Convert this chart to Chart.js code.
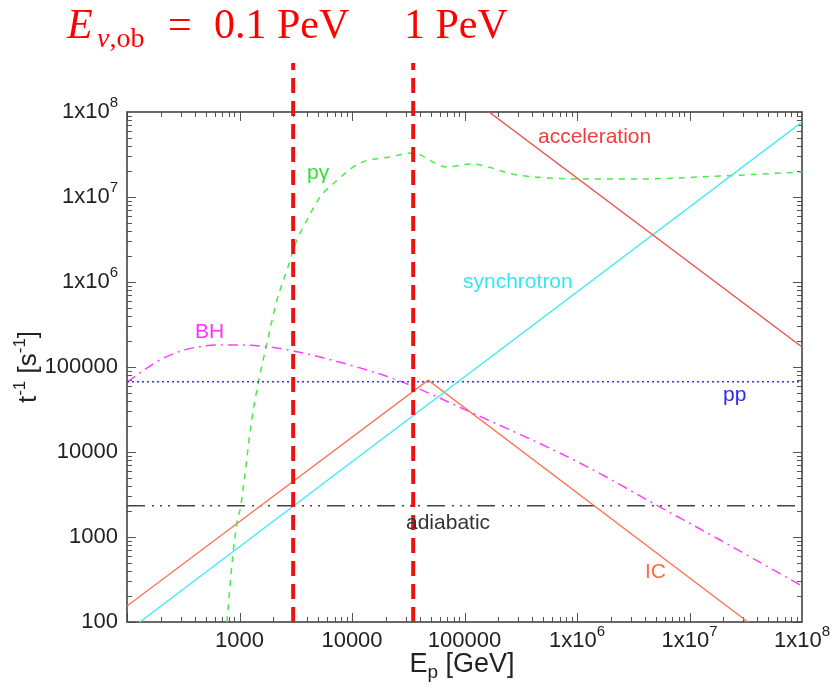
<!DOCTYPE html>
<html>
<head>
<meta charset="utf-8">
<script src="https://cdn.jsdelivr.net/npm/chart.js@4.4.0/dist/chart.umd.min.js"></script>
<style>
  html, body { margin: 0; padding: 0; background: #fff; }
  canvas { display: block; }
</style>
</head>
<body>
<canvas id="rates" width="837" height="688"></canvas>
<script>
// axis ticks ('^' marks the exponent)
const xTickVals = [1e3, 1e4, 1e5, 1e6, 1e7, 1e8];
const xTickLabels = ['1000', '10000', '100000', '1x10^6', '1x10^7', '1x10^8'];
const yTickVals = [1e2, 1e3, 1e4, 1e5, 1e6, 1e7, 1e8];
const yTickLabels = ['100', '1000', '10000', '100000', '1x10^6', '1x10^7', '1x10^8'];

// curves, E_p [GeV] vs t^-1 [s^-1]
const accE = [1e5, 1e8];
const accRate = [1.65e8, 1.72e5];
const synE = [100, 1e8];
const synRate = [77, 7.6e7];
const icE = [100, 4.75e4, 1e8];
const icRate = [154, 7.0e4, 33];
const ppE = [100, 1e8];
const ppRate = [6.7e4, 6.7e4];
const adE = [100, 1e8];
const adRate = [2330, 2330];
const bhE = [100, 196, 321, 631, 1096, 2154, 5200, 25100, 1.12e5, 1.06e6, 5.47e6, 1.87e7, 1e8];
const bhRate = [6.66e4, 1.21e5, 1.58e5, 1.81e5, 1.81e5, 1.67e5, 1.31e5, 7.03e4, 2.96e4, 7430, 2250, 922, 265];
const pgE = [774, 871, 950, 1026, 1284, 1475, 1755, 2154, 2642, 3243, 3981, 5200, 7060, 11800, 21800, 34100, 69900, 1.12e5, 2.93e5, 1.06e6, 3.63e6, 1.24e7, 1e8];
const pgRate = [100, 597, 1462, 2317, 2.38e4, 6.67e4, 1.91e5, 6.14e5, 1.38e6, 3.12e6, 5.36e6, 1.0e7, 1.5e7, 2.51e7, 2.96e7, 3.3e7, 2.25e7, 2.45e7, 1.82e7, 1.63e7, 1.63e7, 1.72e7, 1.97e7];

// observed neutrino energy markers (0.1 PeV, 1 PeV)
const obE = [3000, 35000];
const obSpan = [100, 3.77e8];

// curve labels
const labelText = ['acceleration', 'synchrotron', 'pγ', 'BH', 'pp', 'adiabatic', 'IC'];
const labelE = [4.5e5, 9.7e4, 3980, 402, 1.99e7, 30200, 4.02e6];
const labelRate = [5.08e7, 1.0e6, 1.9e7, 2.57e5, 4.68e4, 1462, 388];
const labelColor = ['#f03c3c', '#33e6f0', '#33e033', '#ff33ff', '#2a2aff', '#333333', '#ff6a45'];

const pts = (xs, ys) => xs.map((v, i) => ({ x: v, y: ys[i] }));
const SANS = '"Liberation Sans", Arial, Helvetica, sans-serif';
const SERIF = '"Liberation Serif", "Times New Roman", serif';
const MAIN = '22px ' + SANS;
const SUP = '15px ' + SANS;

function line(data, color, width, dash, extra) {
  return Object.assign({ data, borderColor: color, borderWidth: width, borderDash: dash, pointRadius: 0, fill: false }, extra || {});
}

const datasets = [
  line(pts([obE[0], obE[0]], obSpan), '#ee1111', 4, [15, 8], { clip: false }),
  line(pts([obE[1], obE[1]], obSpan), '#ee1111', 4, [15, 8], { clip: false }),
  line(pts(accE, accRate), '#f04848', 1.3, []),
  line(pts(synE, synRate), '#40ecf4', 1.3, []),
  line(pts(icE, icRate), '#ff7452', 1.3, []),
  line(pts(ppE, ppRate), '#3030ff', 1.6, [2, 3]),
  line(pts(adE, adRate), '#444444', 1.6, [18, 7, 2, 6, 2, 6, 2, 7]),
  line(pts(bhE, bhRate), '#ff40ff', 1.5, [10, 5, 2, 5], { cubicInterpolationMode: 'monotone' }),
  line(pts(pgE, pgRate), '#44ee44', 1.5, [6, 6], { cubicInterpolationMode: 'monotone' })
];

function drawPieces(ctx, pieces, x, y) {
  // pieces: [text, font, dy]
  let cx = x;
  pieces.forEach(p => {
    ctx.font = p[1];
    ctx.fillText(p[0], cx, y + p[2]);
    cx += ctx.measureText(p[0]).width;
  });
}
function piecesWidth(ctx, pieces) {
  return pieces.reduce((w, p) => { ctx.font = p[1]; return w + ctx.measureText(p[0]).width; }, 0);
}
function tickPieces(label) {
  const parts = label.split('^');
  const out = [[parts[0], MAIN, 0]];
  if (parts[1]) out.push([parts[1], SUP, -9]);
  return out;
}

const decor = {
  id: 'decor',
  beforeDatasetsDraw(chart) {
    const { ctx, chartArea: a, scales: { x, y } } = chart;
    ctx.save();
    ctx.strokeStyle = '#555';
    ctx.lineWidth = 1;
    ctx.beginPath();
    for (let d = 2; d < 8; d++) {
      for (let m = 1; m <= 9; m++) {
        const v = m * Math.pow(10, d);
        const len = m === 1 ? 9 : 5;
        const px = Math.round(x.getPixelForValue(v)) + 0.5;
        const py = Math.round(y.getPixelForValue(v)) + 0.5;
        ctx.moveTo(px, a.bottom); ctx.lineTo(px, a.bottom - len);
        ctx.moveTo(px, a.top); ctx.lineTo(px, a.top + len);
        ctx.moveTo(a.left, py); ctx.lineTo(a.left + len, py);
        ctx.moveTo(a.right, py); ctx.lineTo(a.right - len, py);
      }
    }
    ctx.stroke();
    ctx.lineWidth = 1.6;
    ctx.strokeStyle = '#444';
    ctx.strokeRect(a.left, a.top, a.right - a.left, a.bottom - a.top);

    // tick labels
    ctx.fillStyle = '#222';
    ctx.textBaseline = 'middle';
    ctx.textAlign = 'left';
    xTickVals.forEach((v, i) => {
      const pc = tickPieces(xTickLabels[i]);
      drawPieces(ctx, pc, x.getPixelForValue(v) - piecesWidth(ctx, pc) / 2, a.bottom + 19);
    });
    yTickVals.forEach((v, i) => {
      const pc = tickPieces(yTickLabels[i]);
      drawPieces(ctx, pc, a.left - 9 - piecesWidth(ctx, pc), y.getPixelForValue(v));
    });
    ctx.restore();
  },
  afterDatasetsDraw(chart) {
    const { ctx, scales: { x, y } } = chart;
    ctx.save();
    ctx.textBaseline = 'middle';
    ctx.textAlign = 'left';
    ctx.font = '21px ' + SANS;
    labelText.forEach((t, i) => {
      ctx.fillStyle = labelColor[i];
      ctx.fillText(t, x.getPixelForValue(labelE[i]), y.getPixelForValue(labelRate[i]));
    });

    // axis titles
    ctx.textBaseline = 'alphabetic';
    ctx.fillStyle = '#222';
    const xt = [['E', '27px ' + SANS, 0], ['p', '19px ' + SANS, 6], [' [GeV]', '27px ' + SANS, 0]];
    drawPieces(ctx, xt, 462 - piecesWidth(ctx, xt) / 2, 672);
    const yt = [['t', '26px ' + SANS, 0], ['-1', '17px ' + SANS, -11], [' [s', '26px ' + SANS, 0], ['-1', '17px ' + SANS, -11], [']', '26px ' + SANS, 0]];
    ctx.save();
    ctx.translate(36, 367);
    ctx.rotate(-Math.PI / 2);
    drawPieces(ctx, yt, -piecesWidth(ctx, yt) / 2, 0);
    ctx.restore();

    // red header
    ctx.fillStyle = '#ff0000';
    ctx.font = 'italic 42px ' + SERIF;
    ctx.fillText('E', 67, 38);
    ctx.font = 'italic 28px ' + SERIF;
    ctx.fillText('ν', 97, 47);
    const nuW = ctx.measureText('ν').width;
    ctx.font = '28px ' + SERIF;
    ctx.fillText(',ob', 97 + nuW, 47);
    ctx.font = '42px ' + SERIF;
    ctx.fillText('=', 168, 38);
    ctx.fillText('0.1 PeV', 214, 38);
    ctx.fillText('1 PeV', 404, 38);
    ctx.restore();
  }
};

new Chart(document.getElementById('rates'), {
  type: 'line',
  data: { datasets },
  options: {
    responsive: false,
    devicePixelRatio: 1,
    animation: false,
    events: [],
    layout: { padding: { top: 112, right: 35, left: 0, bottom: 0 } },
    plugins: { legend: { display: false }, tooltip: { enabled: false } },
    scales: {
      x: {
        type: 'logarithmic', min: 100, max: 1e8, position: 'bottom',
        afterBuildTicks: s => { s.ticks = xTickVals.map(v => ({ value: v })); },
        afterFit: s => { s.height = 66; },
        grid: { display: false, drawTicks: false },
        border: { display: false },
        ticks: { display: false }
      },
      y: {
        type: 'logarithmic', min: 100, max: 1e8, position: 'left',
        afterBuildTicks: s => { s.ticks = yTickVals.map(v => ({ value: v })); },
        afterFit: s => { s.width = 127; },
        grid: { display: false, drawTicks: false },
        border: { display: false },
        ticks: { display: false }
      }
    }
  },
  plugins: [decor]
});
</script>
</body>
</html>
